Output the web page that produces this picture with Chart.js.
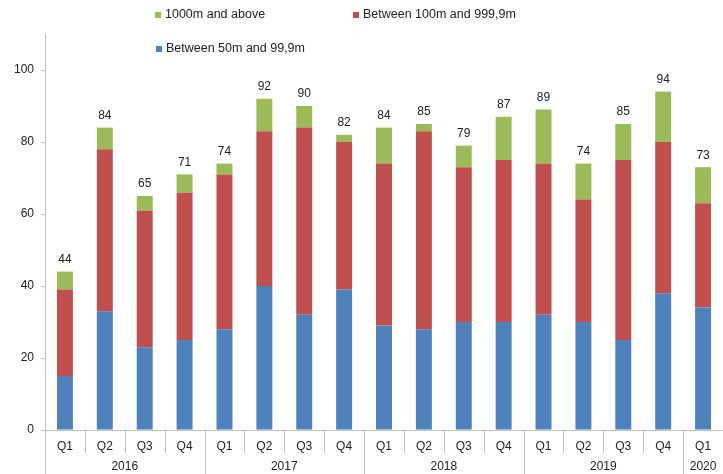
<!DOCTYPE html>
<html>
<head>
<meta charset="utf-8">
<script src="https://cdn.jsdelivr.net/npm/chart.js@4"></script>
<style>
  html, body { margin: 0; padding: 0; background: #fff; }
  #wrap { width: 723px; height: 474px; position: relative; }
</style>
</head>
<body>
<div id="wrap"><canvas id="barCanvas"></canvas></div>
<script>
// data
var quarters = ["Q1", "Q2", "Q3", "Q4", "Q1", "Q2", "Q3", "Q4", "Q1", "Q2", "Q3", "Q4", "Q1", "Q2", "Q3", "Q4", "Q1"];
var years = ["2016", "2017", "2018", "2019", "2020"];
var yearSizes = [4, 4, 4, 4, 1];
var small = [15, 33, 23, 25, 28, 40, 32, 39, 29, 28, 30, 30, 32, 30, 25, 38, 34];
var medium = [24, 45, 38, 41, 43, 43, 52, 41, 45, 55, 43, 45, 42, 34, 50, 42, 29];
var large = [5, 6, 4, 5, 3, 9, 6, 2, 10, 2, 6, 12, 15, 10, 10, 14, 10];
var yTicks = [0, 20, 40, 60, 80, 100];

var FONT = "'Liberation Sans', Arial, sans-serif";
var TEXT = "#222";
var AXIS = "#bfbfbf";

var extras = {
    id: 'extras',
    afterDraw: function(chart) {
        var ctx = chart.ctx;
        var x = chart.scales.x;
        var area = chart.chartArea;
        var H = chart.height;
        ctx.save();
        ctx.strokeStyle = AXIS;
        ctx.lineWidth = 1;

        // y axis line, runs down through the category labels
        ctx.beginPath();
        ctx.moveTo(Math.round(area.left) + 0.5, area.top);
        ctx.lineTo(Math.round(area.left) + 0.5, H);
        // x axis line
        ctx.moveTo(area.left, Math.round(area.bottom) + 0.5);
        ctx.lineTo(area.right, Math.round(area.bottom) + 0.5);
        ctx.stroke();

        // separators between quarters and years
        var step = x.getPixelForValue(1) - x.getPixelForValue(0);
        var bounds = [];
        var acc = 0;
        yearSizes.forEach(function(n) { acc += n; bounds.push(acc); });
        ctx.beginPath();
        for (var i = 1; i < quarters.length; i++) {
            var sx = Math.round(x.getPixelForValue(i) - step / 2) + 0.5;
            var isYear = bounds.indexOf(i) >= 0;
            ctx.moveTo(sx, area.bottom);
            ctx.lineTo(sx, isYear ? H : area.bottom + 23);
        }
        ctx.stroke();

        // year labels
        ctx.fillStyle = TEXT;
        ctx.font = "12px " + FONT;
        ctx.textAlign = 'center';
        ctx.textBaseline = 'middle';
        var start = 0;
        years.forEach(function(yr, k) {
            var a = x.getPixelForValue(start) - step / 2;
            var b = x.getPixelForValue(start + yearSizes[k] - 1) + step / 2;
            ctx.fillText(yr, (a + b) / 2, area.bottom + 37);
            start += yearSizes[k];
        });

        // totals above the stacks
        var y = chart.scales.y;
        for (var j = 0; j < quarters.length; j++) {
            var total = small[j] + medium[j] + large[j];
            ctx.fillText(String(total), x.getPixelForValue(j), y.getPixelForValue(total) - 12);
        }

        // legend
        var items = [
            { label: chart.data.datasets[2].label, color: chart.data.datasets[2].backgroundColor, lx: 155, ly: 15 },
            { label: chart.data.datasets[1].label, color: chart.data.datasets[1].backgroundColor, lx: 353, ly: 15 },
            { label: chart.data.datasets[0].label, color: chart.data.datasets[0].backgroundColor, lx: 156, ly: 49 }
        ];
        ctx.textAlign = 'left';
        ctx.font = "12.5px " + FONT;
        items.forEach(function(it) {
            ctx.fillStyle = it.color;
            ctx.fillRect(it.lx, it.ly - 3, 6, 6);
            ctx.fillStyle = TEXT;
            ctx.fillText(it.label, it.lx + 10, it.ly);
        });
        ctx.restore();
    }
};

function barChart() {
    var ctx = document.getElementById("barCanvas").getContext("2d");

    var data = {
        labels: quarters,
        datasets: [
            { label: "Between 50m and 99,9m", data: small, backgroundColor: "#4F81BD" },
            { label: "Between 100m and 999,9m", data: medium, backgroundColor: "#C0504D" },
            { label: "1000m and above", data: large, backgroundColor: "#9BBB59" }
        ]
    };

    var options = {
        responsive: true,
        maintainAspectRatio: false,
        animation: false,
        layout: { padding: { top: 34, left: 0, right: 0, bottom: 0 } },
        datasets: { bar: { barPercentage: 0.4, categoryPercentage: 1.0, borderWidth: 0 } },
        plugins: {
            legend: { display: false },
            tooltip: { enabled: false }
        },
        scales: {
            x: {
                stacked: true,
                grid: { display: false, drawTicks: false },
                border: { display: false },
                ticks: { color: TEXT, font: { family: FONT, size: 12 }, padding: 9, maxRotation: 0, autoSkip: false },
                afterFit: function(scale) { scale.height = 44; }
            },
            y: {
                stacked: true,
                min: 0,
                max: 110,
                afterBuildTicks: function(scale) {
                    scale.ticks = yTicks.map(function(v) { return { value: v }; });
                },
                grid: { drawOnChartArea: false, tickLength: 4, color: AXIS },
                border: { display: false },
                ticks: { color: TEXT, font: { family: FONT, size: 12 }, padding: 7 },
                afterFit: function(scale) { scale.width = 45; }
            }
        }
    };

    new Chart(ctx, {
        type: 'bar',
        data: data,
        options: options,
        plugins: [extras]
    });
}

barChart();
</script>
</body>
</html>
